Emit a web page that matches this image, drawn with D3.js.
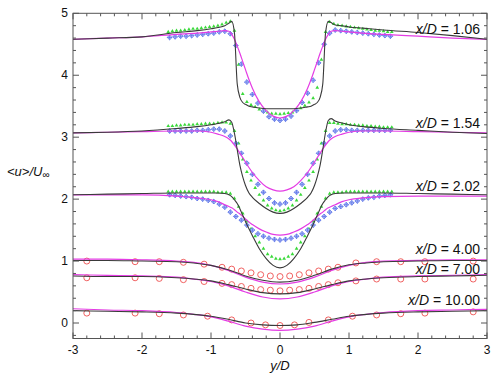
<!DOCTYPE html>
<html><head><meta charset="utf-8">
<script src="https://cdn.jsdelivr.net/npm/d3@7"></script>
<style>body{margin:0;background:#fff}svg{display:block}</style>
</head><body>
<svg id="c" width="500" height="379"></svg>
<script>
// ---------- data ----------
const xTicks = [-3,-2,-1,0,1,2,3];
const yTicks = [0,1,2,3,4,5];
const profileLabels = ["1.06","1.54","2.02","4.00","7.00","10.00"];

const gridNear = [-3,-2.5,-2,-1.5,-1.2,-1.0,-0.9,-0.8,-0.74,-0.70,-0.66,-0.62,-0.58,-0.54,-0.5,-0.45,-0.4,-0.3,-0.2,-0.1,0,0.1,0.2,0.3,0.4,0.45,0.5,0.54,0.58,0.62,0.66,0.70,0.74,0.8,0.9,1.0,1.2,1.5,2,2.5,3];
const black106 = [4.58,4.60,4.62,4.69,4.72,4.75,4.77,4.80,4.84,4.87,4.68,3.86,3.64,3.56,3.53,3.50,3.49,3.47,3.46,3.46,3.46,3.46,3.46,3.47,3.49,3.50,3.53,3.56,3.64,3.86,4.68,4.87,4.85,4.81,4.80,4.78,4.76,4.73,4.69,4.64,4.58];
const mag106 = [4.58,4.60,4.62,4.66,4.68,4.70,4.71,4.72,4.71,4.66,4.58,4.47,4.35,4.22,4.09,3.93,3.79,3.57,3.43,3.34,3.31,3.34,3.43,3.57,3.79,3.93,4.09,4.22,4.35,4.47,4.58,4.66,4.71,4.72,4.71,4.70,4.68,4.66,4.63,4.60,4.58];
const black154 = [3.07,3.08,3.10,3.14,3.17,3.20,3.22,3.25,3.28,3.24,3.06,2.80,2.54,2.36,2.22,2.10,2.03,1.93,1.85,1.79,1.77,1.79,1.85,1.93,2.03,2.10,2.22,2.36,2.54,2.80,3.08,3.27,3.30,3.26,3.23,3.20,3.17,3.14,3.11,3.08,3.06];
const mag154 = [3.07,3.08,3.09,3.10,3.10,3.08,3.05,3.01,2.97,2.93,2.87,2.81,2.74,2.67,2.60,2.51,2.43,2.30,2.20,2.15,2.13,2.15,2.20,2.30,2.43,2.51,2.60,2.67,2.74,2.81,2.87,2.93,2.97,3.01,3.05,3.08,3.10,3.10,3.09,3.08,3.07];
const black202 = [2.07,2.08,2.09,2.10,2.10,2.10,2.10,2.09,2.07,2.04,1.99,1.93,1.84,1.74,1.64,1.52,1.41,1.20,1.04,0.93,0.89,0.93,1.04,1.20,1.41,1.52,1.64,1.74,1.84,1.93,1.99,2.04,2.07,2.09,2.10,2.10,2.10,2.10,2.09,2.08,2.07];
const mag202 = [2.07,2.07,2.07,2.05,2.02,1.99,1.96,1.91,1.88,1.86,1.83,1.79,1.76,1.72,1.68,1.63,1.59,1.52,1.47,1.43,1.42,1.43,1.47,1.52,1.59,1.63,1.68,1.72,1.76,1.79,1.83,1.86,1.88,1.91,1.96,1.99,2.02,2.04,2.05,2.05,2.05];

const gridGreen = [-1.62,-1.56,-1.50,-1.44,-1.38,-1.32,-1.26,-1.20,-1.14,-1.08,-1.02,-0.96,-0.90,-0.84,-0.78,-0.72,-0.66,-0.60,-0.54,-0.48,-0.42,-0.36,-0.30,-0.24,-0.18,-0.12,-0.06,0,0.06,0.12,0.18,0.24,0.30,0.36,0.42,0.48,0.54,0.60,0.66,0.72,0.78,0.84,0.90,0.96,1.02,1.08,1.14,1.20,1.26,1.32,1.38,1.44,1.50,1.56,1.62];
const green106 = [4.70,4.71,4.72,4.72,4.73,4.74,4.75,4.75,4.76,4.77,4.78,4.79,4.80,4.82,4.85,4.87,4.72,4.17,3.70,3.57,3.52,3.49,3.45,3.42,3.40,3.38,3.38,3.37,3.38,3.39,3.40,3.43,3.47,3.51,3.56,3.63,3.80,4.25,4.70,4.86,4.83,4.81,4.80,4.79,4.78,4.77,4.76,4.75,4.74,4.73,4.72,4.72,4.71,4.70,4.70];
const green154 = [3.18,3.18,3.19,3.19,3.20,3.20,3.20,3.21,3.21,3.22,3.22,3.22,3.23,3.24,3.24,3.22,3.10,2.90,2.64,2.44,2.30,2.18,2.07,1.98,1.90,1.85,1.82,1.81,1.82,1.85,1.90,1.98,2.07,2.18,2.30,2.44,2.64,2.90,3.10,3.23,3.23,3.22,3.21,3.21,3.20,3.20,3.19,3.19,3.18,3.18,3.17,3.17,3.16,3.16,3.16];
const green202 = [2.12,2.12,2.12,2.12,2.12,2.12,2.12,2.12,2.12,2.12,2.12,2.12,2.11,2.11,2.11,2.09,2.01,1.88,1.77,1.64,1.52,1.40,1.30,1.20,1.11,1.07,1.04,1.03,1.04,1.07,1.11,1.20,1.30,1.40,1.52,1.64,1.77,1.88,2.01,2.09,2.11,2.11,2.11,2.12,2.12,2.12,2.12,2.12,2.12,2.12,2.12,2.12,2.12,2.12,2.12];

const gridBlue = [-1.60,-1.52,-1.44,-1.36,-1.28,-1.20,-1.12,-1.04,-0.96,-0.88,-0.80,-0.72,-0.64,-0.56,-0.48,-0.40,-0.32,-0.24,-0.16,-0.08,0,0.08,0.16,0.24,0.32,0.40,0.48,0.56,0.64,0.72,0.80,0.88,0.96,1.04,1.12,1.20,1.28,1.36,1.44,1.52,1.60];
const blue106 = [4.61,4.62,4.63,4.63,4.64,4.65,4.66,4.67,4.68,4.70,4.71,4.67,4.48,4.18,3.89,3.69,3.55,3.42,3.33,3.29,3.27,3.29,3.34,3.43,3.56,3.71,3.92,4.20,4.50,4.68,4.73,4.72,4.71,4.70,4.69,4.68,4.67,4.66,4.65,4.64,4.63];
const blue154 = [3.10,3.10,3.10,3.10,3.10,3.11,3.11,3.12,3.13,3.13,3.10,3.02,2.90,2.74,2.58,2.40,2.24,2.11,2.01,1.94,1.92,1.94,2.01,2.11,2.24,2.40,2.58,2.74,2.90,3.02,3.10,3.12,3.12,3.11,3.11,3.11,3.11,3.11,3.11,3.11,3.11];
const blue202 = [2.07,2.06,2.05,2.04,2.03,2.01,2.00,1.98,1.96,1.92,1.87,1.79,1.72,1.66,1.58,1.50,1.44,1.40,1.37,1.35,1.34,1.35,1.37,1.40,1.44,1.50,1.58,1.66,1.72,1.79,1.85,1.88,1.91,1.94,1.97,2.00,2.02,2.03,2.05,2.06,2.07];

const gridFar = [-3,-2.5,-2,-1.5,-1.25,-1,-0.75,-0.5,-0.25,0,0.25,0.5,0.75,1,1.25,1.5,2,2.5,3];
const black400 = [1.01,1.01,1.00,0.99,0.97,0.93,0.86,0.76,0.69,0.66,0.69,0.77,0.87,0.94,0.97,0.99,1.00,1.01,1.01];
const mag400 = [1.03,1.03,1.02,1.00,0.98,0.93,0.85,0.74,0.66,0.63,0.66,0.74,0.85,0.93,0.98,1.00,1.01,1.02,1.02];
const black700 = [0.76,0.75,0.75,0.73,0.71,0.68,0.62,0.55,0.49,0.47,0.49,0.55,0.62,0.68,0.71,0.73,0.75,0.76,0.77];
const mag700 = [0.78,0.77,0.76,0.74,0.71,0.67,0.60,0.50,0.42,0.39,0.42,0.50,0.60,0.67,0.71,0.74,0.76,0.77,0.78];
const black1000 = [0.20,0.19,0.18,0.16,0.14,0.11,0.06,0.00,-0.03,-0.04,-0.03,0.01,0.06,0.11,0.14,0.16,0.18,0.19,0.20];
const mag1000 = [0.23,0.21,0.20,0.17,0.14,0.10,0.03,-0.05,-0.10,-0.12,-0.10,-0.05,0.03,0.10,0.14,0.17,0.20,0.21,0.22];

const gridRed = [-2.8,-2.1,-1.75,-1.4,-1.1,-0.84,-0.7,-0.56,-0.42,-0.28,-0.14,0,0.14,0.28,0.42,0.56,0.7,0.84,1.1,1.4,1.75,2.1,2.8];
const red400 = [1.00,0.99,0.99,0.98,0.95,0.90,0.87,0.84,0.81,0.78,0.76,0.75,0.76,0.78,0.81,0.84,0.87,0.90,0.97,0.99,0.99,0.99,1.00];
const red700 = [0.73,0.73,0.72,0.70,0.67,0.64,0.62,0.59,0.56,0.54,0.53,0.52,0.53,0.54,0.56,0.59,0.62,0.65,0.68,0.71,0.71,0.71,0.71];
const gridRed10 = [-2.8,-2.1,-1.75,-1.4,-1.05,-0.7,-0.42,-0.21,0,0.21,0.42,0.7,1.05,1.4,1.75,2.1,2.8];
const red1000 = [0.16,0.16,0.15,0.13,0.11,0.05,0.00,-0.03,-0.04,-0.03,0.01,0.05,0.11,0.13,0.15,0.16,0.18];

// ---------- drawing ----------
const svg = d3.select("#c");
const L = 73, R = 487, T = 13.3, B = 338.5;
const x = d3.scaleLinear().domain([-3,3]).range([L,R]);
const y = d3.scaleLinear().domain([-0.25,5]).range([B,T]);
const font = "'Liberation Sans', Arial, Helvetica, sans-serif";

const zip = (g,v) => g.map((d,i)=>[d,v[i]]);
const line = d3.line().x(d=>x(d[0])).y(d=>y(d[1])).curve(d3.curveMonotoneX);

svg.append("clipPath").attr("id","cp").append("rect").attr("x",L).attr("y",T).attr("width",R-L).attr("height",B-T);
const plot = svg.append("g").attr("clip-path","url(#cp)");

const blackCol = "#3a3a3a", magCol = "#e43ce4", greenCol = "#3ad93a", blueCol = "#5b72e8", redCol = "#ee5050";

// markers
const greenSets = [green106, green154, green202];
const blueSets = [blue106, blue154, blue202];
const tri = d3.symbol().type(d3.symbolTriangle).size(6);
greenSets.forEach(s=>{
  plot.append("g").selectAll("path").data(zip(gridGreen,s)).join("path")
    .attr("d",tri).attr("transform",d=>`translate(${x(d[0])},${y(d[1])})`)
    .attr("fill",greenCol);
});
blueSets.forEach(s=>{
  plot.append("g").selectAll("path").data(zip(gridBlue,s)).join("path")
    .attr("d","M0,-2.4L2.4,0L0,2.4L-2.4,0Z M0,-2.4V2.4 M-2.4,0H2.4")
    .attr("transform",d=>`translate(${x(d[0])},${y(d[1])})`)
    .attr("fill","#d4dcfb").attr("stroke",blueCol).attr("stroke-width",0.8);
});
[[gridRed,red400],[gridRed,red700],[gridRed10,red1000]].forEach(([g,s])=>{
  plot.append("g").selectAll("circle").data(zip(g,s)).join("circle")
    .attr("cx",d=>x(d[0])).attr("cy",d=>y(d[1])).attr("r",3)
    .attr("fill","none").attr("stroke",redCol).attr("stroke-width",0.9);
});

// curves
const magCurves = [[gridNear,mag106],[gridNear,mag154],[gridNear,mag202],[gridFar,mag400],[gridFar,mag700],[gridFar,mag1000]];
const blackCurves = [[gridNear,black106],[gridNear,black154],[gridNear,black202],[gridFar,black400],[gridFar,black700],[gridFar,black1000]];
magCurves.forEach(([g,s])=>plot.append("path").attr("d",line(zip(g,s))).attr("fill","none").attr("stroke",magCol).attr("stroke-width",1.2));
blackCurves.forEach(([g,s])=>plot.append("path").attr("d",line(zip(g,s))).attr("fill","none").attr("stroke",blackCol).attr("stroke-width",1.1));

// frame
svg.append("rect").attr("x",L).attr("y",T).attr("width",R-L).attr("height",B-T)
  .attr("fill","none").attr("stroke","#555").attr("stroke-width",1);

// ticks (inward, all sides)
const ax = svg.append("g").attr("stroke","#555").attr("stroke-width",1);
const xMinor = d3.range(-30,31,2).map(v=>v/10);
xMinor.forEach(v=>{
  const major = Math.abs(v-Math.round(v))<1e-9;
  const len = major?6:3;
  ax.append("line").attr("x1",x(v)).attr("x2",x(v)).attr("y1",B).attr("y2",B-len);
  ax.append("line").attr("x1",x(v)).attr("x2",x(v)).attr("y1",T).attr("y2",T+len);
});
const yMinor = d3.range(-2,51,2).map(v=>v/10);
yMinor.forEach(v=>{
  const major = Math.abs(v-Math.round(v))<1e-9;
  const len = major?6:3;
  ax.append("line").attr("y1",y(v)).attr("y2",y(v)).attr("x1",L).attr("x2",L+len);
  ax.append("line").attr("y1",y(v)).attr("y2",y(v)).attr("x1",R).attr("x2",R-len);
});

// tick labels
svg.append("g").selectAll("text").data(xTicks).join("text")
  .attr("x",d=>x(d)).attr("y",B+15).attr("text-anchor","middle")
  .attr("font-family",font).attr("font-size",12).attr("fill","#111").text(d=>d);
svg.append("g").selectAll("text").data(yTicks).join("text")
  .attr("x",L-5).attr("y",d=>y(d)+4).attr("text-anchor","end")
  .attr("font-family",font).attr("font-size",12).attr("fill","#111").text(d=>d);

// axis titles
const yl = svg.append("text").attr("x",7).attr("y",176).attr("font-family",font)
  .attr("font-size",13).attr("font-style","italic").attr("fill","#111");
yl.append("tspan").text("<u>/U");
yl.append("tspan").attr("font-size",10).attr("dy",2).text("∞");
svg.append("text").attr("x",280).attr("y",370).attr("text-anchor","middle")
  .attr("font-family",font).attr("font-size",13).attr("font-style","italic").attr("fill","#111").text("y/D");

// profile labels
const labelY = [34, 128, 191, 254, 274, 305];
profileLabels.forEach((lab,i)=>{
  const t = svg.append("text").attr("x",480).attr("y",labelY[i]).attr("text-anchor","end")
    .attr("font-family",font).attr("font-size",14).attr("fill","#111");
  t.append("tspan").attr("font-style","italic").text("x/D");
  t.append("tspan").text(" = "+lab);
});
</script>
</body></html>
